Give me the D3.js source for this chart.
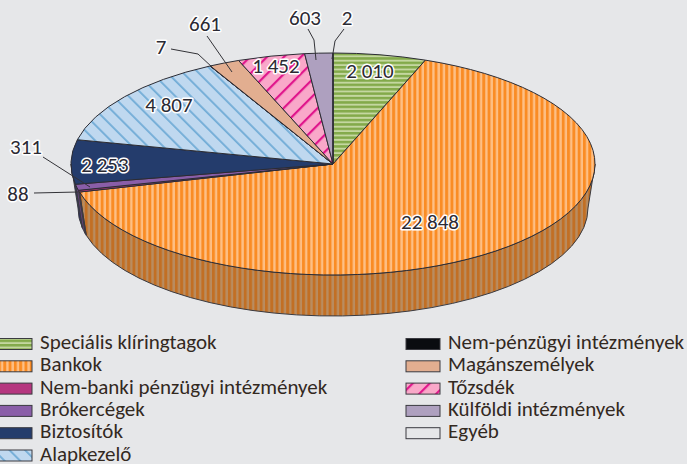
<!DOCTYPE html>
<html>
<head>
<meta charset="utf-8">
<script src="https://cdn.jsdelivr.net/npm/d3@7"></script>
<style>
  html, body { margin: 0; padding: 0; background: #e6e7e9; overflow: hidden; }
  text { font-family: Carlito, Lato, "Open Sans", sans-serif; }
</style>
</head>
<body>
<div id="pie_chart"></div>
<script>
// data
var categories = ["Speciális klíringtagok", "Bankok", "Nem-banki pénzügyi intézmények", "Brókercégek",
    "Biztosítók", "Alapkezelő", "Nem-pénzügyi intézmények", "Magánszemélyek", "Tőzsdék",
    "Külföldi intézmények", "Egyéb"];
var values = [2010, 22848, 88, 311, 2253, 4807, 7, 661, 1452, 603, 2];
var valueLabels = ["2 010", "22 848", "88", "311", "2 253", "4 807", "7", "661", "1 452", "603", "2"];

var fills = ["url(#green)", "url(#orange)", "#b5367f", "#8a5ea8", "#243c6c", "url(#blue)",
    "#0a0c10", "#e2ae90", "url(#pink)", "#aea0bf", "#e6e7e9"];
var sideFills = ["#6f8c3c", "url(#orangeSide)", "#7c2558", "#5f4176", "#2b2f62", "#7d96ad",
    "#08090b", "#a8826c", "#b87c99", "#7f748c", "#a9aaac"];

// label centres and leader lines
var labelX = [370, 430, 18, 26, 105, 169, 161, 205, 276, 305, 347];
var labelY = [71, 222, 194, 147, 165, 105, 47, 24, 66, 18, 18];
var leaders = [
    {i: 2, pts: [[34, 193], [78, 192]]},
    {i: 3, pts: [[43, 157], [90, 187]]},
    {i: 6, pts: [[171, 49], [198, 54], [213, 68]]},
    {i: 7, pts: [[207, 36], [232, 72]]},
    {i: 9, pts: [[308, 29], [314, 40], [316, 60]]},
    {i: 10, pts: [[344, 29], [335, 41], [332, 59]]}
];

var width = 687, height = 464;
var cx = 333, cy = 164, rx = 262, ry = 111;
// the bottom rim is a smaller ellipse, the original has some perspective
var cyLow = 208, rxLow = 255, ryLow = 108;

var svg = d3.select("#pie_chart")
  .append("svg")
    .attr("width", width)
    .attr("height", height)
    .style("display", "block");

svg.append("rect").attr("width", width).attr("height", height).attr("fill", "#e6e7e9");

// patterns
var defs = svg.append("defs");

function stripes(id, size, bg, fg, fgSize, rotate) {
    var p = defs.append("pattern")
        .attr("id", id)
        .attr("patternUnits", "userSpaceOnUse")
        .attr("width", size)
        .attr("height", size)
        .attr("patternTransform", "rotate(" + rotate + ")");
    p.append("rect").attr("width", size).attr("height", size).attr("fill", bg);
    p.append("rect").attr("width", fgSize).attr("height", size).attr("fill", fg);
}

stripes("orange", 5.3, "#fdbf85", "#fa8c24", 2.9, 0);
stripes("orangeSide", 5.3, "#b98c60", "#c26f24", 2.9, 0);
stripes("green", 4.4, "#c4d7a0", "#83aa4a", 2.5, 90);
stripes("blue", 11, "#bfd8ef", "#71acd6", 1.8, -45);
stripes("pink", 12, "#f9a8c9", "#e0168c", 2.2, 45);

// angles come from d3.pie, clockwise from the top like the original
var pie = d3.pie().sort(null).value(function(d) { return d; });
var arcs = pie(values);

var px = d3.scaleLinear().domain([-1, 1]).range([cx - rx, cx + rx]);
var py = d3.scaleLinear().domain([-1, 1]).range([cy - ry, cy + ry]);
var pxLow = d3.scaleLinear().domain([-1, 1]).range([cx - rxLow, cx + rxLow]);
var pyLow = d3.scaleLinear().domain([-1, 1]).range([cyLow - ryLow, cyLow + ryLow]);

function ptX(a) { return px(Math.sin(a)); }
function ptY(a) { return py(-Math.cos(a)); }
function lowX(a) { return pxLow(Math.sin(a)); }
function lowY(a) { return pyLow(-Math.cos(a)); }

function slicePath(d) {
    var large = d.endAngle - d.startAngle > Math.PI ? 1 : 0;
    return "M" + cx + "," + cy +
        "L" + ptX(d.startAngle) + "," + ptY(d.startAngle) +
        "A" + rx + "," + ry + " 0 " + large + " 1 " + ptX(d.endAngle) + "," + ptY(d.endAngle) + "Z";
}

// wall below the front half of the ellipse
function sidePath(d) {
    var a0 = Math.max(d.startAngle, Math.PI / 2);
    var a1 = Math.min(d.endAngle, Math.PI * 1.5);
    if (a1 <= a0) return null;
    var large = a1 - a0 > Math.PI ? 1 : 0;
    return "M" + ptX(a0) + "," + ptY(a0) +
        "A" + rx + "," + ry + " 0 " + large + " 1 " + ptX(a1) + "," + ptY(a1) +
        "L" + lowX(a1) + "," + lowY(a1) +
        "A" + rxLow + "," + ryLow + " 0 " + large + " 0 " + lowX(a0) + "," + lowY(a0) + "Z";
}

svg.selectAll(".side")
  .data(arcs.filter(function(d) { return sidePath(d) !== null; }))
  .enter()
  .append("path")
    .attr("class", "side")
    .attr("d", sidePath)
    .attr("fill", function(d) { return sideFills[d.index]; })
    .attr("stroke", "#3a3a40")
    .attr("stroke-width", 1);

svg.selectAll(".slice")
  .data(arcs)
  .enter()
  .append("path")
    .attr("class", "slice")
    .attr("d", slicePath)
    .attr("fill", function(d) { return fills[d.index]; })
    .attr("stroke", "#2c2c34")
    .attr("stroke-width", 1);

// leader lines
var line = d3.line();
svg.selectAll(".leader")
  .data(leaders)
  .enter()
  .append("path")
    .attr("class", "leader")
    .attr("d", function(d) { return line(d.pts); })
    .attr("fill", "none")
    .attr("stroke", "#333338")
    .attr("stroke-width", 1);

// value labels with white halo
svg.selectAll(".value")
  .data(valueLabels)
  .enter()
  .append("text")
    .attr("class", "value")
    .attr("x", function(d, i) { return labelX[i]; })
    .attr("y", function(d, i) { return labelY[i]; })
    .attr("dy", "0.35em")
    .attr("text-anchor", "middle")
    .attr("font-size", 21)
    .attr("fill", "#2b2a33")
    .attr("stroke", "#fff")
    .attr("stroke-width", 3)
    .attr("stroke-linejoin", "round")
    .attr("paint-order", "stroke")
    .text(function(d) { return d; });

// legend, two columns
var legendX = d3.scaleOrdinal().domain([0, 1]).range([-2, 406]);
var legendY = d3.scaleLinear().domain([0, 5]).range([344, 455.5]);

var legend = svg.selectAll(".legend")
  .data(categories)
  .enter()
  .append("g")
    .attr("class", "legend")
    .attr("transform", function(d, i) {
        var col = i < 6 ? 0 : 1;
        var row = i < 6 ? i : i - 6;
        return "translate(" + legendX(col) + "," + legendY(row) + ")";
    });

legend.append("rect")
    .attr("x", 0)
    .attr("y", -5.5)
    .attr("width", 34)
    .attr("height", 11)
    .attr("fill", function(d, i) { return fills[i]; })
    .attr("stroke", "#3a3a40")
    .attr("stroke-width", 1);

legend.append("text")
    .attr("x", 42)
    .attr("y", 5)
    .attr("font-size", 21)
    .attr("fill", "#33291f")
    .text(function(d) { return d; });
</script>
</body>
</html>
